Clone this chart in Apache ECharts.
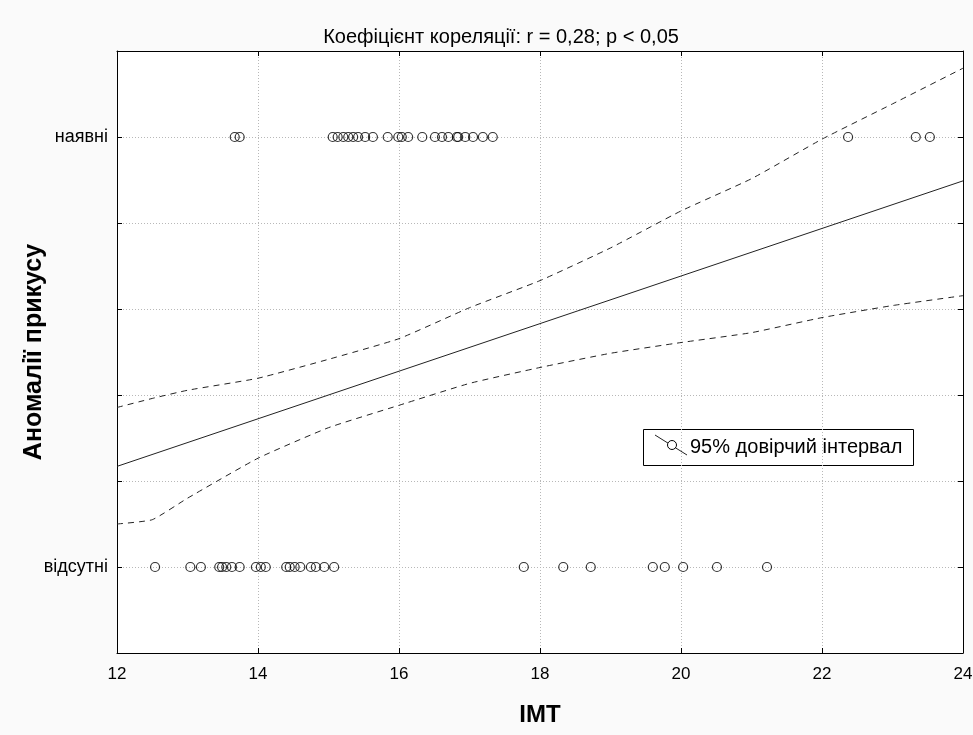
<!DOCTYPE html>
<html lang="uk">
<head>
<meta charset="UTF-8">
<title>Аномалії прикусу / IMT</title>
<script src="https://cdn.jsdelivr.net/npm/echarts@6/dist/echarts.min.js"></script>
<style>
  html, body { margin: 0; padding: 0; background: #fafafa; }
  #main { width: 973px; height: 735px; }
</style>
</head>
<body>
<div id="main"></div>
<script>
// IMT values of children with bite anomalies (y = 1, "наявні")
var presentX = [13.67, 13.74, 15.06, 15.13, 15.21, 15.28, 15.35, 15.42, 15.52, 15.63,
  15.84, 15.99, 16.04, 16.13, 16.33, 16.51, 16.61, 16.70, 16.82, 16.84, 16.94, 17.05,
  17.19, 17.33, 22.37, 23.33, 23.53];
// IMT values without anomalies (y = 0, "відсутні")
var absentX = [12.54, 13.04, 13.19, 13.45, 13.49, 13.55, 13.63, 13.74, 13.97, 14.04,
  14.11, 14.40, 14.45, 14.52, 14.60, 14.75, 14.82, 14.94, 15.08, 17.77, 18.33, 18.72,
  19.60, 19.77, 20.03, 20.51, 21.22];

// regression line and 95% band
var fitX = [12, 24];
var fitY = [0.234, 0.898];
var bandX = [12, 12.5, 13, 14, 15, 16, 17, 18, 19, 20, 21, 22, 23, 24];
var upperY = [0.371, 0.392, 0.411, 0.439, 0.483, 0.531, 0.603, 0.666, 0.742, 0.828, 0.903, 0.995, 1.077, 1.160];
var lowerY = [0.100, 0.110, 0.160, 0.253, 0.324, 0.376, 0.427, 0.464, 0.497, 0.522, 0.545, 0.580, 0.608, 0.631];

var xTicks = [12, 14, 16, 18, 20, 22, 24];
var yLabels = { '0': 'відсутні', '1': 'наявні' };

var sans = '"Liberation Sans", Arial, sans-serif';

function pairs(xs, ys) {
  var out = [];
  for (var i = 0; i < xs.length; i++) out.push([xs[i], ys[i]]);
  return out;
}
function row(xs, y) {
  return xs.map(function (x) { return [x, y]; });
}

var myChart = echarts.init(document.getElementById('main'));

var gridLine = { show: true, lineStyle: { color: '#b8b8b8', type: [1, 2], width: 1 } };
var axisLine = { show: true, onZero: false, lineStyle: { color: '#000', width: 1 } };
var tickIn = { show: true, inside: true, length: 5, lineStyle: { color: '#000' } };
var dot = {
  color: 'transparent', borderColor: '#000', borderWidth: 1.2
};

option = {
  backgroundColor: '#fafafa',
  animation: false,
  title: {
    text: 'Коефіцієнт кореляції: r = 0,28; p < 0,05',
    left: 496, top: 22, textAlign: 'center',
    textStyle: { fontFamily: sans, fontSize: 20, fontWeight: 'normal', color: '#000' }
  },
  grid: {
    left: 117, right: 10, top: 51, bottom: 82, outerBoundsMode: 'none',
    show: true, backgroundColor: '#fff', borderWidth: 0
  },
  xAxis: [{
    type: 'value', min: 12, max: 24, interval: 2,
    name: 'IMT', nameLocation: 'middle', nameGap: 50, nameMoveOverlap: false,
    nameTextStyle: { fontFamily: sans, fontSize: 24, fontWeight: 'bold', color: '#000' },
    axisLine: axisLine, axisTick: tickIn,
    axisLabel: { fontFamily: sans, fontSize: 17, color: '#000', margin: 13,
      formatter: function (v) { return xTicks.indexOf(v) >= 0 ? String(v) : ''; } },
    splitLine: gridLine
  }, {
    type: 'value', min: 12, max: 24, interval: 2, position: 'top',
    axisLine: axisLine, axisTick: tickIn, axisLabel: { show: false }, splitLine: { show: false }
  }],
  yAxis: [{
    type: 'value', min: -0.2, max: 1.2, interval: 0.2,
    name: 'Аномалії прикусу', nameLocation: 'middle', nameGap: 70, nameRotate: 90,
    nameMoveOverlap: false,
    nameTextStyle: { fontFamily: sans, fontSize: 25, fontWeight: 'bold', color: '#000' },
    axisLine: axisLine, axisTick: tickIn,
    axisLabel: { fontFamily: sans, fontSize: 18, color: '#000', margin: 9,
      formatter: function (v) {
        var k = String(Math.round(v * 10) / 10);
        return yLabels[k] || '';
      } },
    splitLine: gridLine
  }, {
    type: 'value', min: -0.2, max: 1.2, interval: 0.2, position: 'right',
    axisLine: axisLine, axisTick: tickIn, axisLabel: { show: false }, splitLine: { show: false }
  }],
  series: [{
    name: 'наявні', type: 'scatter', data: row(presentX, 1),
    symbol: 'circle', symbolSize: 9, itemStyle: dot
  }, {
    name: 'відсутні', type: 'scatter', data: row(absentX, 0),
    symbol: 'circle', symbolSize: 9, itemStyle: dot
  }, {
    name: 'fit', type: 'line', data: pairs(fitX, fitY), showSymbol: false, silent: true,
    lineStyle: { color: '#222', width: 1 }
  }, {
    name: 'upper', type: 'line', data: pairs(bandX, upperY), showSymbol: false, silent: true,
    smooth: 0.15, lineStyle: { color: '#222', width: 1, type: [6, 5] }
  }, {
    name: 'lower', type: 'line', data: pairs(bandX, lowerY), showSymbol: false, silent: true,
    smooth: 0.15, lineStyle: { color: '#222', width: 1, type: [6, 5] }
  }],
  graphic: [{
    type: 'rect', shape: { x: 643.5, y: 429.5, width: 270, height: 36 },
    style: { fill: '#fff', stroke: '#000', lineWidth: 1 }
  }, {
    type: 'line', shape: { x1: 655, y1: 435, x2: 687, y2: 455 },
    style: { stroke: '#222', lineWidth: 1 }
  }, {
    type: 'circle', shape: { cx: 672, cy: 445, r: 4.5 },
    style: { fill: '#fff', stroke: '#000', lineWidth: 1 }
  }, {
    type: 'text', left: 690, top: 437,
    style: { text: '95% довірчий інтервал', font: '20px ' + sans, fill: '#000' }
  }]
};

myChart.setOption(option);
</script>
</body>
</html>
